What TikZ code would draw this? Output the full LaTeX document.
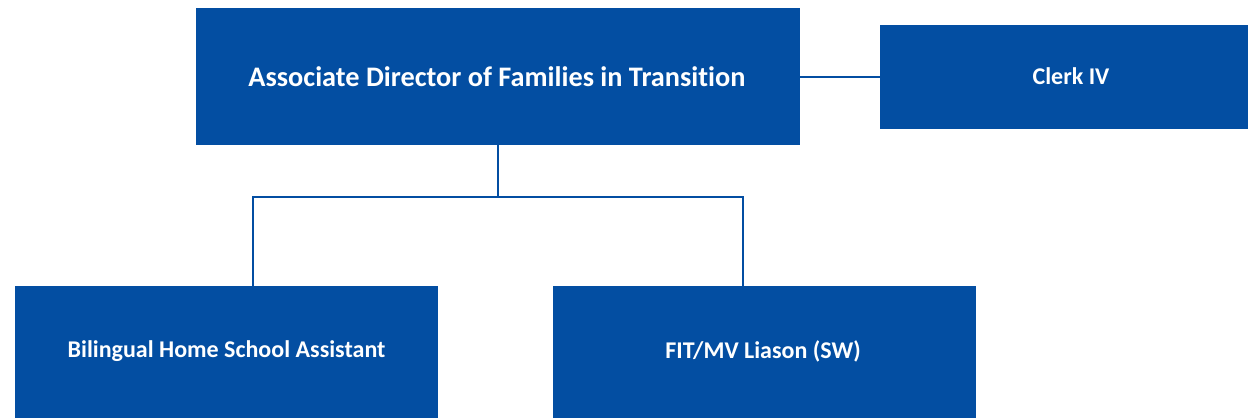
\documentclass[tikz,border=0pt]{standalone}
\usepackage{fontspec}
\setmainfont{Carlito}[Ligatures=NoCommon]
\definecolor{boxblue}{HTML}{034EA2}
\begin{document}
\begin{tikzpicture}[x=1pt,y=-1pt,
  orgbox/.style={fill=boxblue,draw=none,inner sep=0pt,text=white,font=\bfseries},
  label/.style={text=white,inner sep=0pt},
  link/.style={draw=boxblue,line width=2pt}]
\useasboundingbox (0,0) rectangle (1248,418);
\node[orgbox,minimum width=604pt,minimum height=137pt] (dir) at (498,76.5) {};
\node[orgbox,minimum width=368pt,minimum height=104pt] (clerk) at (1064,76.5) {};
\node[orgbox,minimum width=423pt,minimum height=132pt] (bil) at (226.5,352) {};
\node[orgbox,minimum width=423pt,minimum height=132pt] (fit) at (764,352) {};
\node[label,font=\fontsize{28.3}{32}\selectfont\bfseries] (dirt) at (497,77) {Associate Director of Families in Transition};
\node[label,font=\fontsize{24}{28}\selectfont\bfseries] (clerkt) at (1071,76) {Clerk IV};
\node[label,font=\fontsize{24}{28}\selectfont\bfseries] (bilt) at (226.5,351) {Bilingual Home School Assistant};
\node[label,font=\fontsize{24}{28}\selectfont\bfseries] (fitt) at (763,351) {FIT/MV Liason (SW)};
\coordinate (j) at (498,197);
\draw[link] (dir.south) -- (j);
\draw[link] (bil.north -| 253,0) |- (j) -| (fit.north -| 743,0);
\draw[link] (dir.east) -- (clerk.west);
\end{tikzpicture}
\end{document}
